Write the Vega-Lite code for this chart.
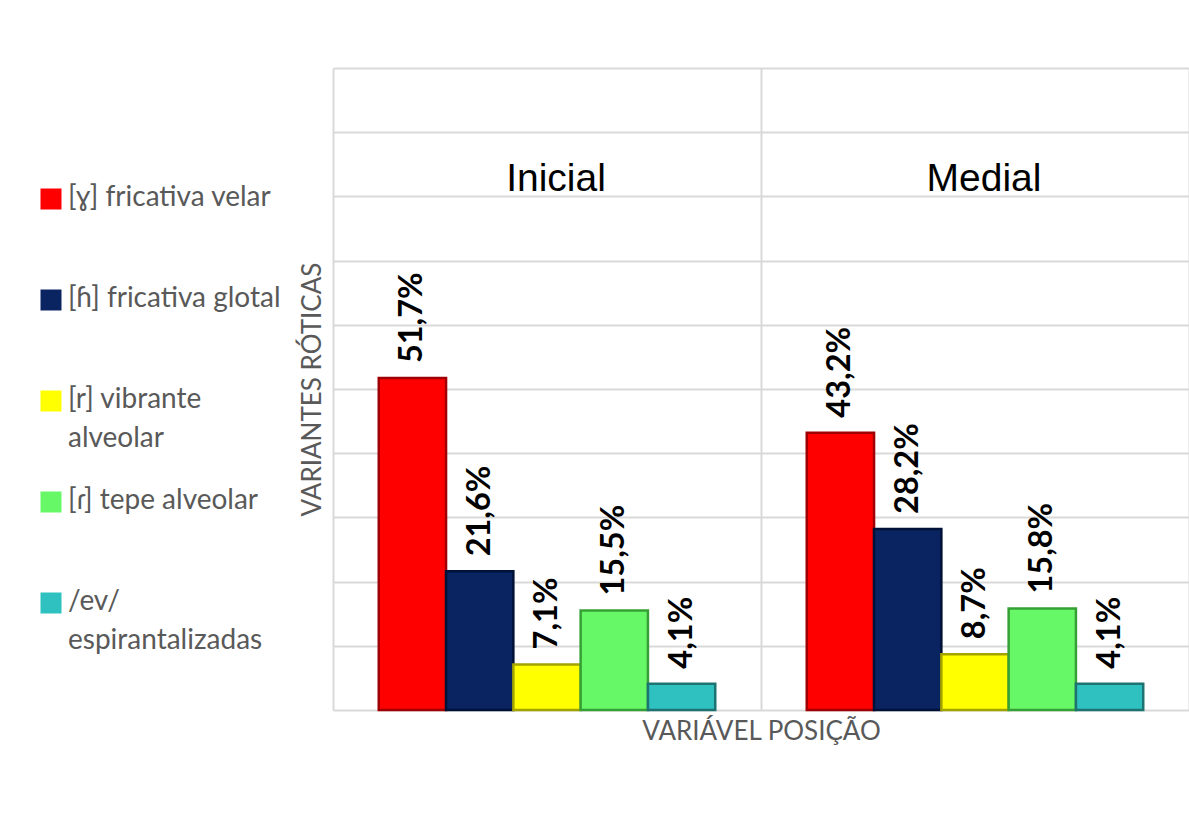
{
  "$schema": "https://vega.github.io/schema/vega-lite/v6.json",
  "width": 856,
  "height": 642,
  "autosize": {"type": "none"},
  "padding": {"left": 333, "top": 68, "right": 0, "bottom": 118},
  "background": "white",
  "config": {
    "view": {"stroke": null},
    "locale": {"number": {"decimal": ",", "thousands": ".", "grouping": [3], "currency": ["", ""]}}
  },
  "data": {
    "values": [
      {"posicao": "Inicial", "variante": "[ɣ] fricativa velar", "valor": 0.517},
      {"posicao": "Inicial", "variante": "[ɦ] fricativa glotal", "valor": 0.216},
      {"posicao": "Inicial", "variante": "[r] vibrante alveolar", "valor": 0.071},
      {"posicao": "Inicial", "variante": "[ɾ] tepe alveolar", "valor": 0.155},
      {"posicao": "Inicial", "variante": "/ev/ espirantalizadas", "valor": 0.041},
      {"posicao": "Medial", "variante": "[ɣ] fricativa velar", "valor": 0.432},
      {"posicao": "Medial", "variante": "[ɦ] fricativa glotal", "valor": 0.282},
      {"posicao": "Medial", "variante": "[r] vibrante alveolar", "valor": 0.087},
      {"posicao": "Medial", "variante": "[ɾ] tepe alveolar", "valor": 0.158},
      {"posicao": "Medial", "variante": "/ev/ espirantalizadas", "valor": 0.041}
    ]
  },
  "encoding": {
    "x": {
      "field": "posicao",
      "type": "nominal",
      "scale": {"domain": ["Inicial", "Medial"], "paddingInner": 0, "paddingOuter": 0},
      "axis": {
        "orient": "bottom",
        "title": "VARIÁVEL POSIÇÃO",
        "labels": false,
        "ticks": false,
        "domain": false,
        "grid": true,
        "tickBand": "extent",
        "gridColor": "#d9d9d9",
        "gridWidth": 2,
        "titleFont": "Lato, DejaVu Sans",
        "titleFontSize": 26,
        "titleFontWeight": "normal",
        "titleColor": "#595959",
        "titlePadding": 8
      }
    }
  },
  "layer": [
    {
      "mark": {"type": "bar", "strokeWidth": 2.5},
      "encoding": {
        "xOffset": {
          "field": "variante",
          "type": "nominal",
          "scale": {
            "domain": ["[ɣ] fricativa velar", "[ɦ] fricativa glotal", "[r] vibrante alveolar", "[ɾ] tepe alveolar", "/ev/ espirantalizadas"],
            "paddingInner": 0,
            "paddingOuter": 0.68
          }
        },
        "y": {
          "field": "valor",
          "type": "quantitative",
          "scale": {"domain": [0, 1], "nice": false},
          "axis": {
            "title": "VARIANTES RÓTICAS",
            "labels": false,
            "ticks": false,
            "domain": false,
            "grid": true,
            "values": [0, 0.1, 0.2, 0.3, 0.4, 0.5, 0.6, 0.7, 0.8, 0.9, 1],
            "gridColor": "#d9d9d9",
            "gridWidth": 2,
            "titleFont": "Lato, DejaVu Sans",
            "titleFontSize": 26,
            "titleFontWeight": "normal",
            "titleColor": "#595959",
            "titlePadding": 8
          }
        },
        "color": {
          "field": "variante",
          "type": "nominal",
          "scale": {
            "domain": ["[ɣ] fricativa velar", "[ɦ] fricativa glotal", "[r] vibrante alveolar", "[ɾ] tepe alveolar", "/ev/ espirantalizadas"],
            "range": ["#ff0000", "#0a2462", "#ffff00", "#66f866", "#2fc0c0"]
          },
          "legend": {
            "orient": "none",
            "legendX": -296,
            "legendY": 117,
            "title": null,
            "symbolType": "square",
            "symbolSize": 441,
            "symbolStrokeWidth": 0,
            "labelFont": "Lato, DejaVu Sans",
            "labelFontSize": 28,
            "labelColor": "#595959",
            "labelOffset": 3,
            "labelLimit": 300,
            "gridAlign": "all",
            "rowPadding": 34,
            "padding": 0,
            "labelBaseline": "top",
            "labelExpr": "datum.label == '[r] vibrante alveolar' ? ['[r] vibrante', 'alveolar'] : datum.label == '/ev/ espirantalizadas' ? ['/ev/', 'espirantalizadas'] : datum.label",
            "encode": {"labels": {"update": {"dy": {"value": -15}, "lineHeight": {"value": 39}}}}
          }
        },
        "stroke": {
          "field": "variante",
          "type": "nominal",
          "scale": {
            "domain": ["[ɣ] fricativa velar", "[ɦ] fricativa glotal", "[r] vibrante alveolar", "[ɾ] tepe alveolar", "/ev/ espirantalizadas"],
            "range": ["#a00000", "#001238", "#a3a300", "#36a036", "#1d7272"]
          },
          "legend": null
        }
      }
    },
    {
      "mark": {"type": "text", "angle": 270, "align": "left", "baseline": "middle", "dx": 15, "font": "Lato, DejaVu Sans", "fontWeight": "bold", "fontSize": 32.5, "color": "#000000"},
      "encoding": {
        "xOffset": {"field": "variante", "type": "nominal"},
        "y": {"field": "valor", "type": "quantitative"},
        "text": {"field": "valor", "type": "quantitative", "format": ".1%"}
      }
    },
    {
      "data": {"values": [{"posicao": "Inicial"}, {"posicao": "Medial"}]},
      "mark": {"type": "text", "align": "center", "baseline": "alphabetic", "dx": 9, "font": "Liberation Sans", "fontSize": 39, "color": "#000000"},
      "encoding": {
        "y": {"datum": 0.808, "type": "quantitative"},
        "text": {"field": "posicao", "type": "nominal"}
      }
    }
  ]
}
